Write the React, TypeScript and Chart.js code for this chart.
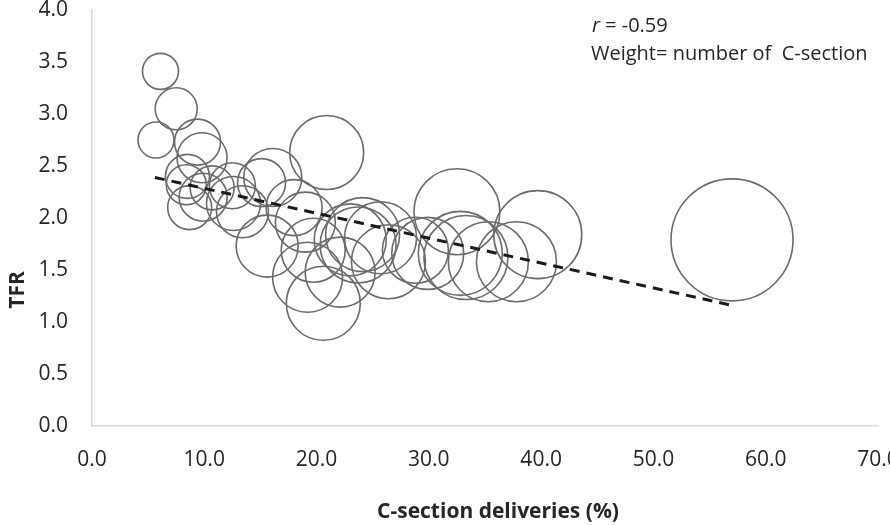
import React, { useEffect, useRef } from "react";
import { Chart, registerables } from "chart.js";

Chart.register(...registerables);

// C-section deliveries (%) per country
const cSectionPct = [
  6.1, 7.5, 5.7, 9.4, 9.8, 8.5, 8.4, 8.7, 9.9, 10.7, 12.5, 12.6, 13.4, 15.1, 16.1,
  15.6, 18.0, 19.0, 20.9, 19.2, 20.6, 19.7, 22.1, 23.0, 23.7, 24.1, 25.7, 26.4,
  28.8, 29.9, 32.5, 32.8, 33.3, 35.3, 37.8, 39.7, 57.0,
];
// Total fertility rate
const tfr = [
  3.41, 3.05, 2.75, 2.73, 2.58, 2.4, 2.32, 2.1, 2.2, 2.29, 2.31, 2.14, 2.06, 2.34, 2.39,
  1.73, 2.1, 1.96, 2.63, 1.43, 1.18, 1.69, 1.48, 1.79, 1.74, 1.84, 1.81, 1.58,
  1.69, 1.66, 2.06, 1.66, 1.62, 1.58, 1.58, 1.84, 1.79,
];
// Bubble weight (number of C-sections), as bubble radius
const weight = [
  18, 21, 18, 23, 25, 22, 20, 22, 24, 22, 23, 27, 26, 24, 29,
  31, 28, 30, 37, 35, 37, 32, 35, 36, 38, 37, 36, 37,
  33, 36, 43, 42, 42, 40, 40, 44, 61,
];
// Linear trend line end points
const trendX = [5.6, 57.0];
const trendY = [2.39, 1.16];

const xTickValues = [0, 10, 20, 30, 40, 50, 60, 70];
const yTickValues = [0, 0.5, 1, 1.5, 2, 2.5, 3, 3.5, 4];

const FONT = '"Open Sans", "Liberation Sans", sans-serif';

const textPlugin = {
  id: "annotText",
  afterDraw(chart: any) {
    const ctx = chart.ctx as CanvasRenderingContext2D;
    ctx.save();
    ctx.fillStyle = "#262626";
    ctx.textBaseline = "middle";
    ctx.textAlign = "left";
    ctx.font = `italic 20px ${FONT}`;
    ctx.fillText("r", 592, 26);
    const w = ctx.measureText("r").width;
    ctx.font = `20px ${FONT}`;
    ctx.fillText(" = -0.59", 592 + w, 26);
    ctx.fillText("Weight= number of  C-section", 591, 54);

    ctx.font = `bold 21px ${FONT}`;
    ctx.textAlign = "center";
    ctx.fillText("C-section deliveries (%)", 498, 512);
    ctx.translate(18, 290);
    ctx.rotate(-Math.PI / 2);
    ctx.fillText("TFR", 0, 0);
    ctx.restore();
  },
};

export default function App() {
  const ref = useRef<HTMLCanvasElement | null>(null);

  useEffect(() => {
    if (!ref.current) return;
    const bubbles = cSectionPct.map((x, i) => ({ x, y: tfr[i], r: weight[i] }));
    const trend = trendX.map((x, i) => ({ x, y: trendY[i] }));
    const chart = new Chart(ref.current, {
      type: "bubble",
      data: {
        datasets: [
          {
            type: "line",
            data: trend,
            borderColor: "#1a1a1a",
            borderWidth: 3,
            borderDash: [10, 7],
            pointRadius: 0,
            fill: false,
            order: 0,
          } as any,
          {
            type: "bubble",
            data: bubbles,
            backgroundColor: "rgba(0,0,0,0)",
            borderColor: "#6b6b6b",
            borderWidth: 1.6,
            order: 1,
            clip: false,
          } as any,
        ],
      },
      options: {
        animation: false,
        responsive: false,
        events: [],
        layout: { autoPadding: false, padding: { top: 10, right: 12, left: 0, bottom: 0 } },
        plugins: {
          legend: { display: false },
          tooltip: { enabled: false },
        },
        scales: {
          x: {
            type: "linear",
            min: 0,
            max: 70,
            afterBuildTicks: (s: any) => {
              s.ticks = xTickValues.map((v) => ({ value: v }));
            },
            afterFit: (s: any) => {
              s.height = 99;
              s.paddingRight = 0;
              s.paddingLeft = 0;
            },
            grid: { display: false, drawTicks: false },
            border: { display: true, color: "#d9d9d9", width: 1.5 },
            ticks: {
              padding: 21,
              color: "#262626",
              font: { family: FONT, size: 21 },
              callback: (v: any) => Number(v).toFixed(1),
              maxRotation: 0,
            },
          },
          y: {
            type: "linear",
            min: 0,
            max: 4,
            afterBuildTicks: (s: any) => {
              s.ticks = yTickValues.map((v) => ({ value: v }));
            },
            afterFit: (s: any) => {
              s.width = 92;
              s.paddingTop = 0;
              s.paddingBottom = 0;
            },
            grid: { display: false, drawTicks: false },
            border: { display: true, color: "#d9d9d9", width: 1.5 },
            ticks: {
              padding: 24,
              color: "#262626",
              font: { family: FONT, size: 21 },
              callback: (v: any) => Number(v).toFixed(1),
            },
          },
        },
      },
      plugins: [textPlugin],
    });
    return () => chart.destroy();
  }, []);

  return (
    <div style={{ position: "absolute", left: 0, top: 0, width: 890, height: 525, background: "#fff" }}>
      <canvas ref={ref} width={890} height={525} style={{ width: 890, height: 525 }} />
    </div>
  );
}
